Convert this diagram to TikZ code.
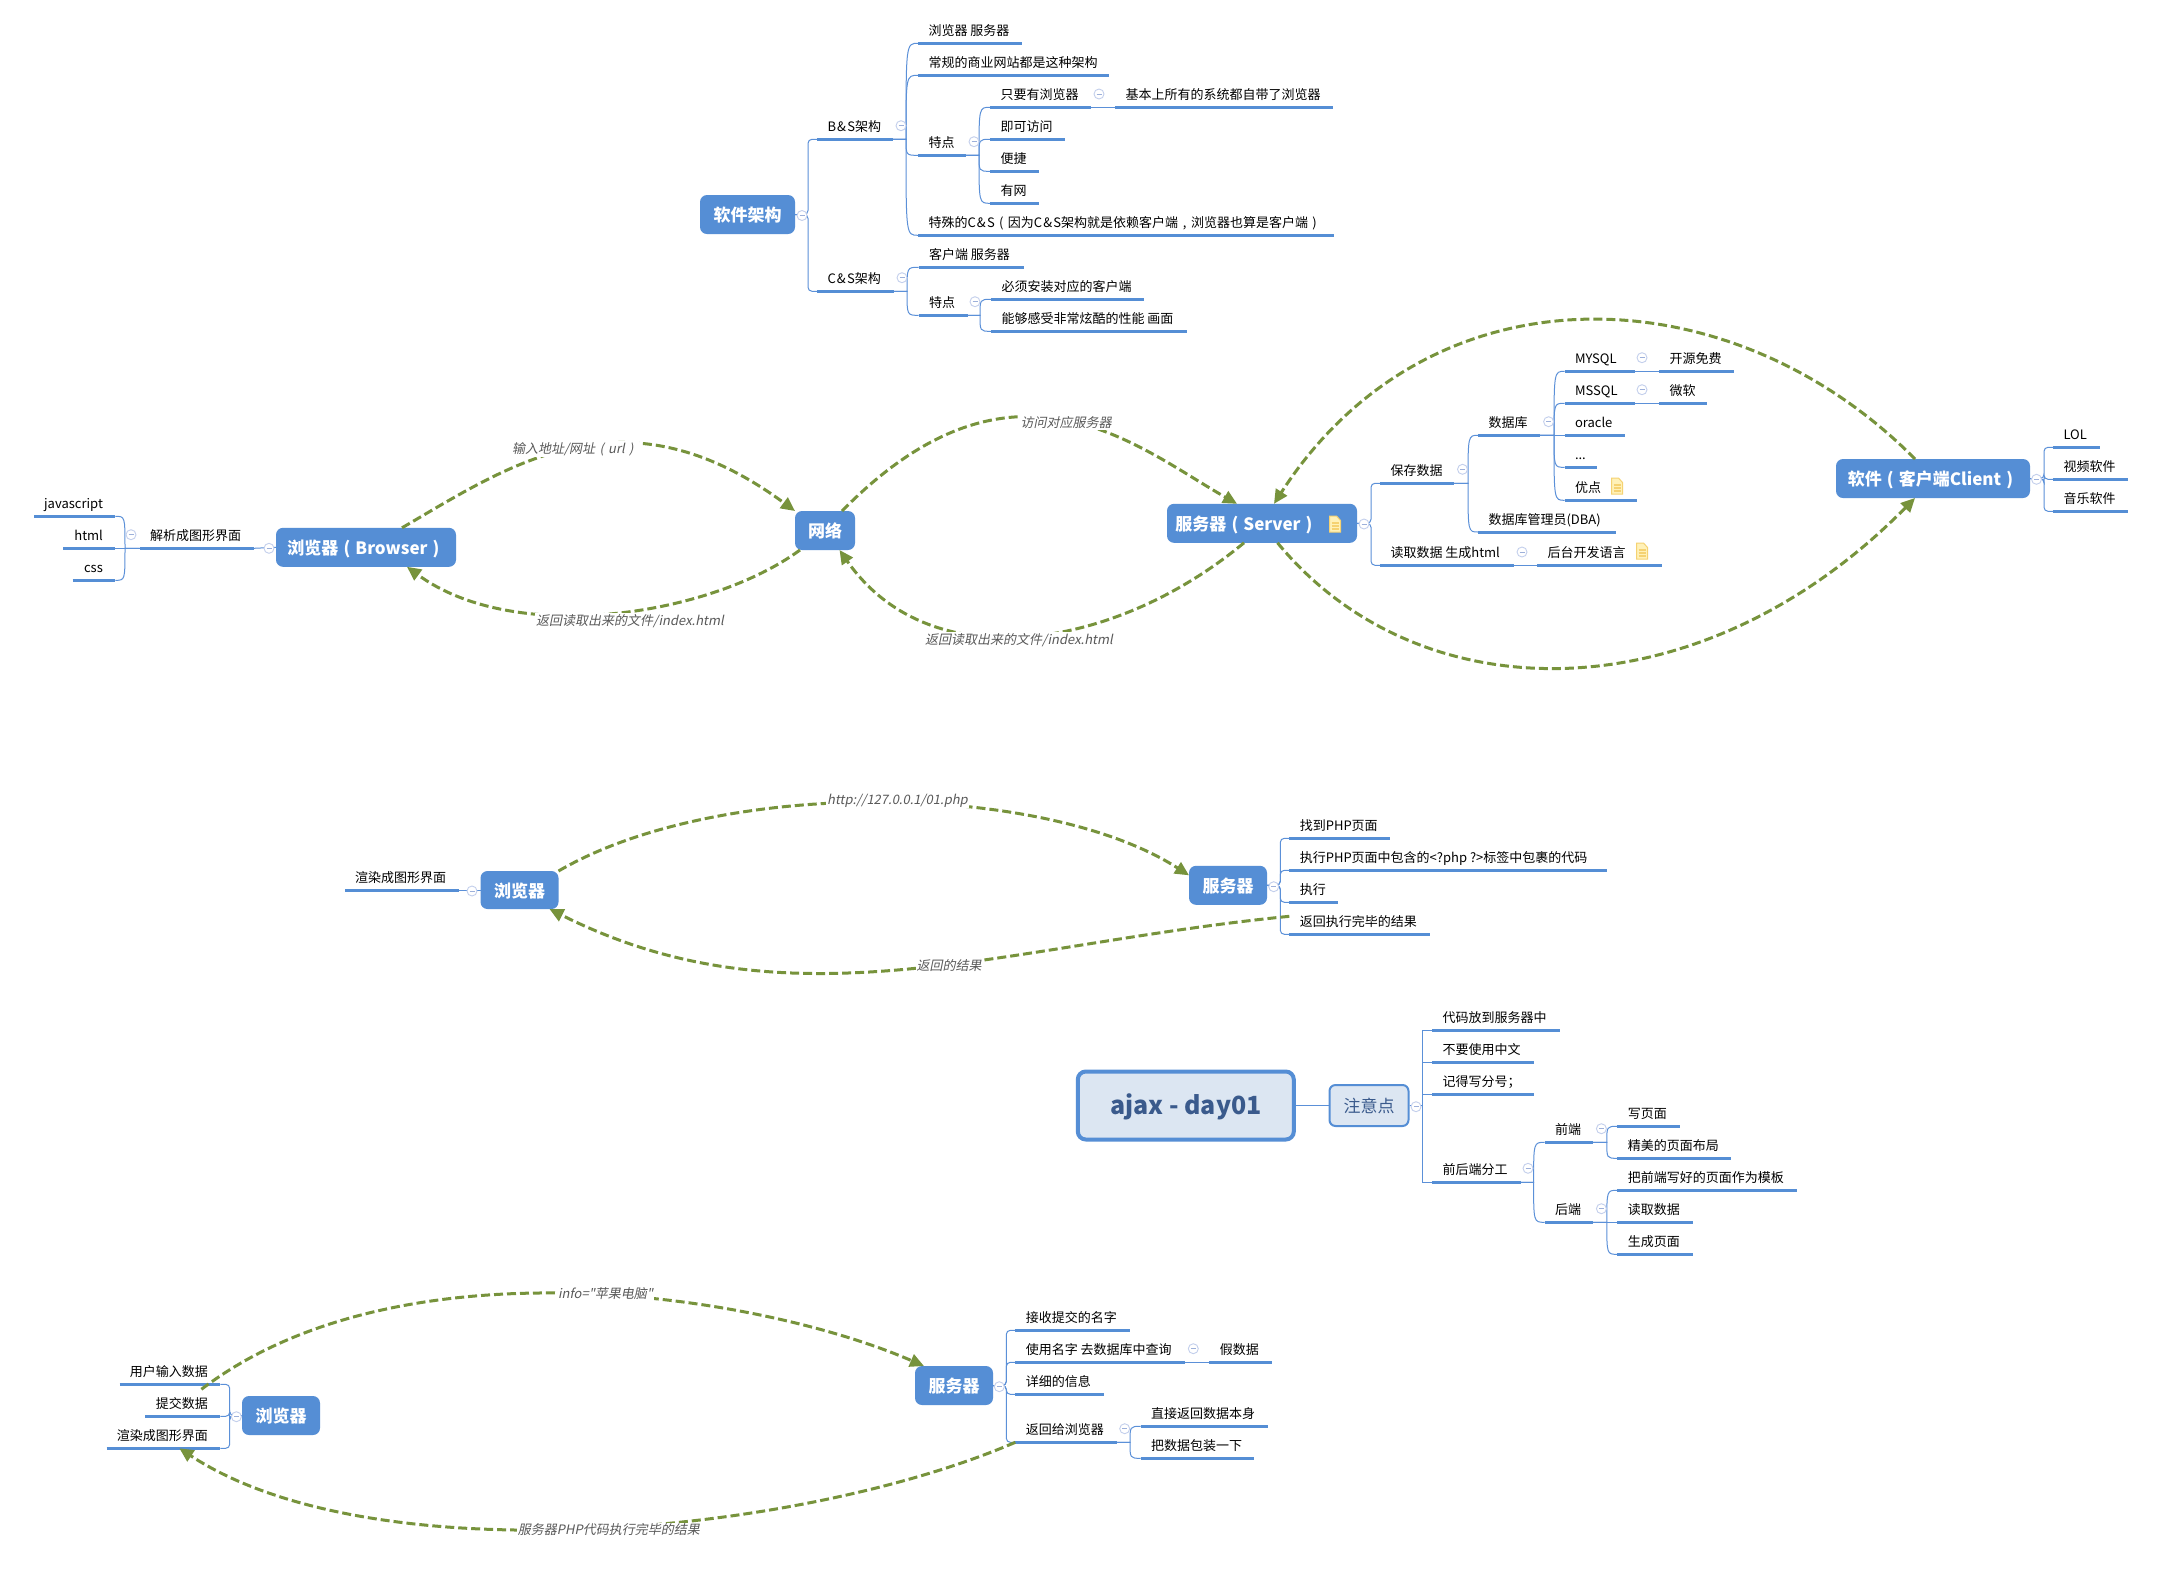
\documentclass[tikz,border=0pt]{standalone}
\usepackage{fontspec}
\setmainfont{Noto Sans CJK SC}
\newfontfamily\slfont[FakeSlant=0.2]{Noto Sans CJK SC}
\usetikzlibrary{arrows.meta}
\definecolor{mapblue}{HTML}{558ED5}
\definecolor{linkblue}{HTML}{5B90D8}
\definecolor{rootfill}{HTML}{DCE6F2}
\definecolor{roottext}{HTML}{3A5A8C}
\definecolor{relgreen}{HTML}{77933C}
\definecolor{relgray}{HTML}{595959}
\definecolor{collline}{HTML}{C3CFEC}
\definecolor{collbar}{HTML}{9DB0DA}
\definecolor{notefill}{HTML}{FFF1B8}
\definecolor{noteline}{HTML}{F5D272}
\tikzset{
  ul/.style={draw=mapblue,line width=3pt},
  leaf/.style={inner sep=0pt,outer sep=0pt,anchor=south west,text height=14pt,text depth=7.6pt,
    font=\fontsize{13pt}{15pt}\selectfont,
    append after command={(\tikzlastnode.south west) edge[ul] (\tikzlastnode.south east)}},
  topicbox/.style={rectangle,rounded corners=7pt,fill=mapblue,text=white,inner sep=0pt,outer sep=0pt,
    text height=18pt,text depth=4pt,
    font=\fontsize{17pt}{20pt}\selectfont\bfseries},
  conn/.style={draw=linkblue,line width=1pt},
  coll/.style={circle,draw=collline,fill=white,line width=.9pt,minimum size=10pt,inner sep=0pt,
    path picture={\draw[collbar,line width=.9pt] ([xshift=-2.5pt]path picture bounding box.center) -- ([xshift=2.5pt]path picture bounding box.center);}},
  relline/.style={draw=relgreen,line width=3pt,dash pattern=on 9pt off 4pt,-{Triangle[length=14pt,width=13pt]}},
  rlab/.style={fill=white,inner sep=1pt,text=relgray,font=\fontsize{13pt}{15pt}\selectfont\slfont},
  noteicon/.pic={
    \filldraw[fill=notefill,draw=noteline,line width=1pt] (-5.5,-8) -- (1.5,-8) -- (5.5,-3.5) -- (5.5,8) -- (-5.5,8) -- cycle;
    \draw[noteline,line width=1.2pt] (-3.5,-1) -- (3.5,-1) (-3.5,2) -- (3.5,2) (-3.5,5) -- (3.5,5);
  }
}
\newcommand\lf[5]{\node[leaf] (#1) at (#2,#4) {\makebox[\dimexpr#3pt-#2pt\relax][l]{\hspace*{10.5pt}#5}};}
\newcommand\lr[5]{\node[leaf] (#1) at (#2,#4) {\makebox[\dimexpr#3pt-#2pt\relax][r]{#5\hspace*{12.5pt}}};}
\newcommand\cv[3]{\draw[conn] (#1) -- (#2,0 |- #1) .. controls (#2,0 |- #3) .. (#3);}
\newcommand\elb[3]{\draw[conn,rounded corners=4pt] (#1) -- (#2,0 |- #1) |- (#3);}
\newcommand\elbs[3]{\draw[conn] (#1) -- (#2,0 |- #1) |- (#3);}
\newcommand\cl[3]{\node[coll] (#1) at (#2,#3) {};}
\newcommand\lp{\makebox[1em][c]{(}}
\newcommand\rp{\makebox[1em][c]{)}}
\newcommand\CS[1]{#1\kern1.2pt\&\kern1.2pt S}
\begin{document}
\begin{tikzpicture}[x=1pt,y=-1pt]
\useasboundingbox (0,0) rectangle (2172,1583);
\fill[white] (0,0) rectangle (2172,1583);

% ---------- topic boxes
\node[topicbox,minimum width=95pt,minimum height=39pt] (soft) at (747.5,214.5) {软件架构};
\node[topicbox,minimum width=180pt,minimum height=39pt] (br) at (366,547.3) {浏览器\lp Browser\rp};
\node[topicbox,minimum width=60pt,minimum height=39pt] (net) at (825,530.5) {网络};
\node[topicbox,minimum width=190pt,minimum height=39pt] (srv) at (1262,523.3) {服务器\lp Server\rp\hspace*{31pt}};
\node[topicbox,minimum width=194pt,minimum height=39pt] (cli) at (1933,478.5) {软件\lp 客户端Client\rp};
\node[topicbox,minimum width=78pt,minimum height=38pt] (b2) at (519.5,890) {浏览器};
\node[topicbox,minimum width=78pt,minimum height=39pt] (s2) at (1228,885.3) {服务器};
\node[topicbox,minimum width=78pt,minimum height=39pt] (b3) at (281,1415.5) {浏览器};
\node[topicbox,minimum width=78pt,minimum height=39pt] (s3) at (954,1385.5) {服务器};
\node[draw=mapblue,line width=4pt,fill=rootfill,rounded corners=8pt,minimum width=216pt,minimum height=68pt,inner sep=0pt,text=roottext,text height=21pt,text depth=4pt,font=\fontsize{25pt}{30pt}\selectfont\bfseries] (root) at (1185.8,1105.5) {ajax - day01};
\node[draw=mapblue,line width=2pt,fill=rootfill,rounded corners=6pt,minimum width=79pt,minimum height=41pt,inner sep=0pt,text=roottext,font=\fontsize{17pt}{20pt}\selectfont] (note) at (1369,1105.5) {注意点};

% ---------- software architecture
\lf{bs}{817}{893}{139.3}{\CS{B}架构}
\lf{cs}{817}{894}{291.3}{\CS{C}架构}
\lf{a1}{918}{1022}{43.3}{浏览器 服务器}
\lf{a2}{918}{1109}{75.3}{常规的商业网站都是这种架构}
\lf{a3}{918}{966}{155.3}{特点}
\lf{a4}{918}{1334}{235.3}{特殊的\CS{C}\lp 因为\CS{C}架构就是依赖客户端\makebox[1em][c]{,}浏览器也算是客户端\rp}
\lf{b1}{990}{1091}{107.3}{只要有浏览器}
\lf{b2x}{1115}{1333}{107.3}{基本上所有的系统都自带了浏览器}
\lf{b3x}{990}{1065}{139.3}{即可访问}
\lf{b4}{990}{1039}{171.3}{便捷}
\lf{b5}{990}{1039}{203.3}{有网}
\lf{c1}{918.5}{1023.5}{267.3}{客户端 服务器}
\lf{c2}{918.5}{967.5}{315.3}{特点}
\lf{d1}{991}{1144}{299.3}{必须安装对应的客户端}
\lf{d2}{991}{1187}{331.3}{能够感受非常炫酷的性能 画面}
\elb{soft.east}{808}{bs.south west}
\elb{soft.east}{808}{cs.south west}
\cv{bs.south east}{906}{a1.south west}
\cv{bs.south east}{906}{a2.south west}
\cv{bs.south east}{906}{a3.south west}
\cv{bs.south east}{906}{a4.south west}
\cv{a3.south east}{979}{b1.south west}
\cv{a3.south east}{979}{b3x.south west}
\cv{a3.south east}{979}{b4.south west}
\cv{a3.south east}{979}{b5.south west}
\draw[conn] (b1.south east) -- (b2x.south west);
\cv{cs.south east}{907}{c1.south west}
\cv{cs.south east}{907}{c2.south west}
\cv{c2.south east}{980}{d1.south west}
\cv{c2.south east}{980}{d2.south west}
\cl{k1}{802}{215.5}
\cl{k2}{901}{125.7}
\cl{k3}{974}{141.7}
\cl{k4}{1099}{94}
\cl{k5}{902}{277.7}
\cl{k6}{975}{301.7}

% ---------- browser side
\lf{jx}{139.6}{253.7}{548.3}{解析成图形界面}
\lr{js}{34}{115.4}{516.3}{javascript}
\lr{ht}{63}{115.4}{548.3}{html}
\lr{cs2}{72.7}{115.4}{580.3}{css}
\draw[conn] (br.west) -- (jx.south east);
\cv{jx.south west}{125}{js.south east}
\cv{jx.south west}{125}{ht.south east}
\cv{jx.south west}{125}{cs2.south east}
\cl{k7}{269}{548.3}
\cl{k8}{131}{534.7}

% ---------- server side
\lf{sv}{1380}{1454}{483.3}{保存数据}
\lf{rd}{1380}{1513.5}{565.3}{读取数据 生成html}
\lf{bk}{1537}{1662}{565.3}{后台开发语言}
\lf{db}{1478}{1540}{435.3}{数据库}
\lf{dba}{1478}{1615.5}{532}{数据库管理员(DBA)}
\lf{my}{1564.5}{1635}{371.3}{MYSQL}
\lf{ms}{1564.5}{1635}{403.3}{MSSQL}
\lf{ora}{1564.5}{1625}{435.3}{oracle}
\lf{dots}{1564.5}{1597}{467.3}{...}
\lf{adv}{1564.5}{1637}{500.3}{优点}
\lf{my2}{1659}{1733.5}{371.3}{开源免费}
\lf{ms2}{1659}{1707}{403.3}{微软}
\elb{srv.east}{1371}{sv.south west}
\elb{srv.east}{1371}{rd.south west}
\cv{sv.south east}{1468}{db.south west}
\cv{sv.south east}{1468}{dba.south west}
\cv{db.south east}{1554}{my.south west}
\cv{db.south east}{1554}{ms.south west}
\cv{db.south east}{1554}{ora.south west}
\cv{db.south east}{1554}{dots.south west}
\cv{db.south east}{1554}{adv.south west}
\draw[conn] (my.south east) -- (my2.south west);
\draw[conn] (ms.south east) -- (ms2.south west);
\draw[conn] (rd.south east) -- (bk.south west);
\cl{k9}{1364}{524}
\cl{k10}{1462.5}{469.3}
\cl{k11}{1548.6}{421.7}
\cl{k12}{1642}{357.7}
\cl{k13}{1642}{389.7}
\cl{k14}{1522}{552}
\pic at (1335,524) {noteicon};
\pic at (1617,486) {noteicon};
\pic at (1642,551) {noteicon};

% ---------- client
\lf{lol}{2053}{2100}{447.3}{LOL}
\lf{vid}{2053}{2128}{479.3}{视频软件}
\lf{mus}{2053}{2128}{511.3}{音乐软件}
\elb{cli.east}{2044}{lol.south west}
\elb{cli.east}{2044}{vid.south west}
\elb{cli.east}{2044}{mus.south west}
\cl{k15}{2036.5}{479.3}

% ---------- second map
\lr{rn}{345}{458.5}{890}{渲染成图形界面}
\draw[conn] (b2.west) -- (rn.south east);
\cl{k16}{472}{891}
\lf{p1}{1289.3}{1390.3}{838.3}{找到PHP页面}
\lf{p2}{1289.3}{1606.7}{870.3}{执行PHP页面中包含的<?php ?>标签中包裹的代码}
\lf{p3}{1289.3}{1338.3}{902.3}{执行}
\lf{p4}{1289.3}{1429.7}{934.3}{返回执行完毕的结果}
\elb{s2.east}{1280.3}{p1.south west}
\elb{s2.east}{1280.3}{p2.south west}
\elb{s2.east}{1280.3}{p3.south west}
\elb{s2.east}{1280.3}{p4.south west}
\cl{k17}{1273.7}{886.7}

% ---------- root notes
\lf{n1}{1432}{1560}{1030.3}{代码放到服务器中}
\lf{n2}{1432}{1533.6}{1062.3}{不要使用中文}
\lf{n3}{1432}{1533.6}{1094.3}{记得写分号；}
\lf{n4}{1432}{1520.5}{1182.3}{前后端分工}
\lf{f1}{1544.7}{1593}{1142.3}{前端}
\lf{f2}{1544.7}{1593}{1222.3}{后端}
\lf{g1}{1617.4}{1679.5}{1126.3}{写页面}
\lf{g2}{1617.4}{1731.4}{1158.3}{精美的页面布局}
\lf{g3}{1617.4}{1797}{1190.3}{把前端写好的页面作为模板}
\lf{g4}{1617.4}{1692.6}{1222.3}{读取数据}
\lf{g5}{1617.4}{1692.6}{1254.3}{生成页面}
\draw[conn] (root.east) -- (note.west);
\elbs{note.east}{1422.6}{n1.south west}
\elbs{note.east}{1422.6}{n2.south west}
\elbs{note.east}{1422.6}{n3.south west}
\elbs{note.east}{1422.6}{n4.south west}
\cv{n4.south east}{1533.6}{f1.south west}
\cv{n4.south east}{1533.6}{f2.south west}
\cv{f1.south east}{1606.8}{g1.south west}
\cv{f1.south east}{1606.8}{g2.south west}
\cv{f2.south east}{1606.8}{g3.south west}
\cv{f2.south east}{1606.8}{g4.south west}
\cv{f2.south east}{1606.8}{g5.south west}
\cl{k18}{1416}{1106.7}
\cl{k19}{1528}{1168.3}
\cl{k20}{1601.4}{1128.7}
\cl{k21}{1601.4}{1208.7}

% ---------- third map
\lr{u1}{119.5}{220.4}{1384.3}{用户输入数据}
\lr{u2}{145.4}{220.4}{1416.3}{提交数据}
\lr{u3}{106.5}{220.4}{1448.3}{渲染成图形界面}
\elb{b3.west}{229.7}{u1.south east}
\elb{b3.west}{229.7}{u2.south east}
\elb{b3.west}{229.7}{u3.south east}
\cl{k22}{236.4}{1416.7}
\lf{q1}{1015.3}{1129.7}{1330.3}{接收提交的名字}
\lf{q2}{1015.3}{1185.3}{1362.3}{使用名字 去数据库中查询}
\lf{q2b}{1209.3}{1271.7}{1362.3}{假数据}
\lf{q3}{1015.3}{1103.7}{1394.3}{详细的信息}
\lf{q4}{1015.3}{1116.7}{1442.3}{返回给浏览器}
\lf{q5}{1140.7}{1267.7}{1426.3}{直接返回数据本身}
\lf{q6}{1140.7}{1254.3}{1458.3}{把数据包装一下}
\elb{s3.east}{1006.3}{q1.south west}
\elb{s3.east}{1006.3}{q2.south west}
\elb{s3.east}{1006.3}{q3.south west}
\elb{s3.east}{1006.3}{q4.south west}
\draw[conn] (q2.south east) -- (q2b.south west);
\cv{q4.south east}{1130}{q5.south west}
\cv{q4.south east}{1130}{q6.south west}
\cl{k23}{999.3}{1386.7}
\cl{k24}{1193.3}{1348.7}
\cl{k25}{1124.7}{1428.7}

% ---------- relationships
\draw[relline] ([xshift=36pt]br.north) .. controls (510,465) and (624,385) .. (net.north west);
\draw[relline] ([xshift=-25pt]net.south) .. controls (710,616) and (515,646) .. ([xshift=41pt]br.south);
\draw[relline] ([xshift=17pt]net.north) .. controls (1013,337) and (1137,447) .. ([xshift=-25pt]srv.north);
\draw[relline] ([xshift=-18pt]srv.south) .. controls (1115,650) and (930,680) .. ([xshift=14.5pt]net.south);
\draw[relline] ([xshift=15.5pt]srv.south) .. controls (1420,716) and (1700,716) .. ([xshift=-18pt]cli.south);
\draw[relline] ([xshift=-18pt]cli.north) .. controls (1730,272) and (1430,262) .. ([xshift=12pt]srv.north);
\draw[relline] (b2.north east) .. controls (720,777) and (1044,782) .. ([yshift=10pt]s2.west);
\draw[relline] ([yshift=18pt]p4.south west) .. controls (1000,945) and (790,1030) .. ([xshift=30pt]b2.south);
\draw[relline] ([xshift=-19pt,yshift=-5pt]u1.south east) .. controls (400,1238) and (758,1294) .. ([xshift=9pt]s3.north west);
\draw[relline] (q4.south west) .. controls (800,1535) and (374,1576) .. ([xshift=-41pt]u3.south east);

\node[rlab] (l1) at (575,449) {输入地址/网址\lp url\rp};
\node[rlab] (l2) at (630,620.7) {返回读取出来的文件/index.html};
\node[rlab] (l3) at (1066,422.5) {访问对应服务器};
\node[rlab] (l4) at (1019,640) {返回读取出来的文件/index.html};
\node[rlab] (l5) at (897.5,800.6) {http://127.0.0.1/01.php};
\node[rlab] (l6) at (949,965.5) {返回的结果};
\node[rlab] (l7) at (605.6,1294) {info="苹果电脑"};
\node[rlab] (l8) at (608.8,1530) {服务器PHP代码执行完毕的结果};
\end{tikzpicture}
\end{document}
